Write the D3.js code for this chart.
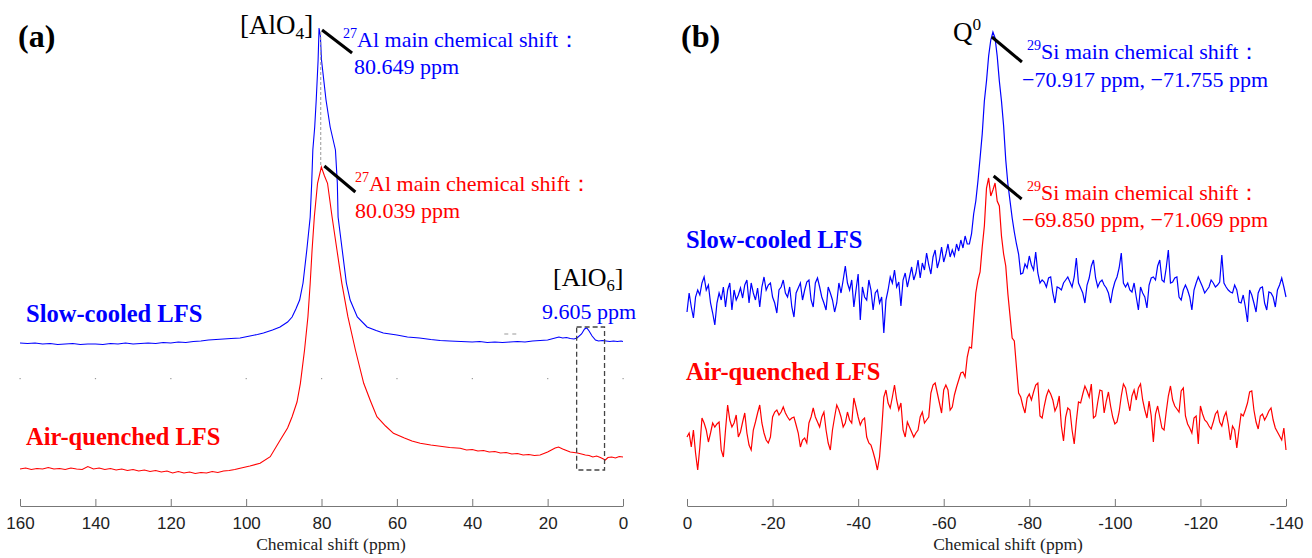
<!DOCTYPE html>
<html>
<head>
<meta charset="utf-8">
<script src="https://cdn.jsdelivr.net/npm/d3@7"></script>
<style>
  body { margin: 0; background: #fff; }
</style>
</head>
<body>
<script>
// ---- data (intensities in arbitrary units incl. stack offset) ----
const alTicks = [160, 140, 120, 100, 80, 60, 40, 20, 0];
const siTicks = [0, -20, -40, -60, -80, -100, -120, -140];

// 27Al spectrum, slow-cooled LFS: [ppm, intensity]
const alSlow = [[160,163],[158,162.5],[156,163],[154,162],[152,162.5],[150,161.5],[148,162],[146,162.5],[144,161.5],[142,162],
  [140,162],[138,161.5],[136,162.5],[134,162],[132,163],[130,162],[128,162.5],[126,163],[124,162.5],[122,163.5],
  [120,163],[118,164],[116,163.5],[114,164.5],[112,165],[110,166],[108,166.5],[106,167],[104,167.5],[101.6,168],
  [99,170],[97,171.5],[95.4,173],[93,176],[91,179],[89,184],[87.8,189],[86.8,197],[85.8,206],[84.9,223],
  [83.9,256],[83.0,289],[82.6,323],[82.3,356],[81.8,379],[81.4,406],[80.9,446],[80.65,478],[80.3,470],[80.0,446],
  [78.8,406],[77.7,379],[76.3,356],[75.8,323],[75.6,289],[74.5,256],[73.4,223],[72.4,206],[70.5,189],[67.9,179],
  [65.5,175.5],[63.6,173],[60,171],[57.2,169],[54,168],[51,166.5],[48.5,165.5],[46,165],[43,164.5],[40,164],
  [38,164.5],[36,163.5],[34,164],[32,163.5],[30,164],[28,164.5],[26,164],[24,165],[22,165.5],[20,166],
  [19,167],[18,168],[17,169],[16,168],[15,168.5],[14,167.5],[13,167],[12.2,168],[11,172],[10.2,177],
  [9.6,178],[9,175],[8.2,170],[7.3,166],[6.5,165],[5.5,165.5],[4.5,165],[3.5,164.5],[2.5,165],[1.5,164.5],
  [0.5,165],[0,164.5]];

// 27Al spectrum, air-quenched LFS: [ppm, intensity]
const alAir = [[160,37],[158.5,38],[157,36.5],[155.5,37.5],[154,37],[152.5,38.5],[151,37],[149.5,37.5],[148,36.5],[146.5,38],
  [145,37],[143.5,36.5],[142,39.5],[140.5,37],[139,38],[137.5,36.5],[136,37.5],[134.5,36],[133,37],[131.5,35.5],
  [130,36.5],[128.5,35],[127,36],[125.5,34.5],[124,35.5],[122.5,34],[121,35],[119.5,33],[118,34.5],[116.5,33],
  [115,34],[113.5,32.5],[112,33.5],[110.5,33],[109,34.5],[107.5,33.5],[106,35],[104.5,35.5],[103,36.5],[101.6,37.7],
  [99,40],[96.3,42.7],[93.6,49.3],[90.95,66],[89,78],[87.8,89.3],[86.5,104],[85.6,122.7],[84.5,156],[83.6,189.3],
  [83.0,222.7],[82.5,256],[81.9,289.3],[81.05,322.7],[80.04,339],[79.2,330],[78.4,322.7],[77.2,289.3],[75.9,256],[74.6,222.7],
  [73.0,189.3],[71.0,156],[68.8,122.7],[67,105],[65.3,89.3],[63,80],[60.9,72.7],[58,68],[56,65],[53.8,62.7],
  [51,61],[48,59.5],[46,58.5],[43.2,57.7],[41.5,56],[40,56.5],[38.5,55],[37,55.5],[35.5,54],[34,54.5],
  [32.5,53],[31,53.5],[29.5,52],[28,52.5],[26.5,51],[25,51.5],[23.5,50.5],[22,51],[21,52.5],[20,54],
  [19,56],[18,58],[17.1,59],[16,57],[15,55.5],[14,54],[13,53.5],[12.1,53],[11,52],[10,51],
  [9,50.5],[8,49],[7,50],[6,48.5],[5.2,47],[4.7,46],[4,48.5],[3,49],[2,48],[1,49.5],[0,49]];

// 29Si spectra, sampled every 0.5 ppm from 0 to -140 ppm
const siShift = d3.range(0, -140.25, -0.5);

const siSlow = [
  194,213,199,188,209,216,211,223,229,216, 221,203,193,181,203,213,206,219,199,216,
  223,196,216,206,211,218,208,221,226,203, 223,213,206,218,199,219,229,216,221,223,
  209,203,193,216,219,226,213,209,219,199, 189,213,218,223,206,216,224,226,206,199,
  223,228,219,209,203,196,219,213,206,194, 203,223,213,226,240,223,216,226,199,216,
  232,186,219,209,206,226,216,196,213,216, 203,209,173,206,216,
  229,223,236,219,224,200,226,233,219,229, 239,226,233,246,228,243,236,253,241,232,
  249,256,238,246,259,244,252,262,249,256,
  250,262,255,266,258,270,262,262,272,292, 305,325,348,372,405,425,450,466,474,468,
  450,425,405,380,346,322,305,288,274,262, 252,
  232,233,242,238,250,241,236,254,233,223, 226,224,219,228,229,213,203,219,218,216,
  223,226,229,224,219,229,248,223,218,213, 203,221,228,240,246,228,219,224,226,221,
  218,213,203,216,224,229,238,253,223,219, 223,216,214,223,209,196,219,213,209,198,
  221,228,229,226,240,246,226,224,238,256, 223,224,228,229,209,206,216,221,216,209,
  196,216,223,229,224,219,213,216,219,226, 223,219,221,224,251,223,219,216,214,213,
  221,216,204,203,211,199,184,216,211,203, 194,213,218,219,203,196,214,213,209,199,
  216,221,228,219,209];

const siAir = [
  69,73,59,76,53,36,59,88,83,76, 64,73,83,79,82,84,56,49,76,101,
  86,79,83,91,69,74,84,93,73,61, 56,76,84,93,101,83,73,66,63,69,
  89,94,96,91,94,99,93,89,86,88, 89,81,73,59,66,68,63,83,89,98,
  89,84,79,89,94,76,63,56,76,89, 101,96,89,79,83,94,86,83,108,99,
  89,81,86,88,69,63,61,54,46,36, 49,76,109,116,103,98,109,121,106,96,
  103,76,69,84,79,74,69,73,76,89, 94,83,86,89,113,121,123,113,103,93,
  116,121,116,96,99,111,119,126,133,134, 129,149,159,158,186,213,226,234,
  259,280,318,328,310,316,323,305,300,270, 252,240,212,190,168,165,139,
  113,109,100,93,108,112,106,114,121,123, 90,88,100,110,116,112,106,95,100,110,
  80,65,89,98,96,76,62,85,104,103, 112,120,115,109,122,88,90,104,116,115,
  93,105,114,100,89,82,84,94,110,122, 118,106,95,110,116,106,118,122,106,96,
  88,105,90,64,92,100,89,78,76,94, 110,120,106,100,97,94,115,118,90,82,
  78,73,88,90,62,100,92,86,84,80, 77,84,92,95,84,80,89,94,82,66,
  80,76,58,76,92,90,96,103,114,115, 96,84,77,90,92,86,90,95,98,86,
  78,74,70,66,78,56];

// ---- setup ----
const w = 1312, h = 558;
const blue = "#0000ff", red = "#ff0000";
const serif = "'Liberation Serif', 'Times New Roman', serif";

let svg = d3.select("body").append("svg")
  .attr("width", w).attr("height", h)
  .style("background", "#fff");

let xA = d3.scaleLinear().domain([160, 0]).range([20, 623]);
let xB = d3.scaleLinear().domain([0, -140]).range([687, 1286]);
let y = d3.scaleLinear().domain([0, 480]).range([506, 26]);

function drawAxis(scale, ticks, title, titleX) {
  let g = svg.append("g")
    .attr("transform", "translate(0,506)")
    .call(d3.axisBottom(scale)
      .tickValues(ticks)
      .tickSizeInner(-7)
      .tickSizeOuter(0)
      .tickPadding(11)
      .tickFormat(d => String(d)))
    .attr("font-family", "'Liberation Sans', Arial, sans-serif")
    .attr("font-size", 17);
  g.select(".domain").attr("stroke", "#777");
  g.selectAll(".tick line").attr("stroke", "#777");
  g.selectAll(".tick text").attr("fill", "#222");

  svg.append("text")
    .attr("x", titleX).attr("y", 550)
    .attr("text-anchor", "middle")
    .attr("font-family", serif).attr("font-size", 17.5)
    .attr("fill", "#222")
    .text(title);
}

// text with optional superscript / subscript pieces
function addText(x, yy, pieces, color, size, weight) {
  let t = svg.append("text")
    .attr("x", x).attr("y", yy)
    .attr("font-family", serif)
    .attr("font-size", size)
    .attr("fill", color);
  if (weight) t.attr("font-weight", weight);
  let shift = 0;
  pieces.forEach(p => {
    let target = p[1] == "sup" ? -0.4 * size : p[1] == "sub" ? 0.2 * size : 0;
    t.append("tspan")
      .attr("dy", target - shift)
      .attr("font-size", p[1] ? size * 0.64 : size)
      .text(p[0]);
    shift = target;
  });
  return t;
}

function leader(px, py, dx, dy) {
  svg.append("line")
    .attr("x1", px).attr("y1", py)
    .attr("x2", px + dx).attr("y2", py + dy)
    .attr("stroke", "#000").attr("stroke-width", 3);
}

// ---------------- panel (a) ----------------
drawAxis(xA, alTicks, "Chemical shift (ppm)", 331);

// faint dotted level between the two traces
svg.append("g").selectAll("rect").data(alTicks).enter()
  .append("rect")
    .attr("x", d => xA(d) - 0.5).attr("y", y(128))
    .attr("width", 1.2).attr("height", 1.2)
    .attr("fill", "#999");

let lineA = d3.line().x(d => xA(d[0])).y(d => y(d[1]));

svg.append("path").datum(alSlow)
  .attr("d", lineA).attr("fill", "none")
  .attr("stroke", blue).attr("stroke-width", 1.1);

svg.append("path").datum(alAir)
  .attr("d", lineA).attr("fill", "none")
  .attr("stroke", red).attr("stroke-width", 1.1);

// dashed link between the two main peaks
svg.append("line")
  .attr("x1", xA(80.2)).attr("y1", y(474))
  .attr("x2", xA(80.2)).attr("y2", y(340))
  .attr("stroke", "#999").attr("stroke-width", 1)
  .attr("stroke-dasharray", "3,2");

// dashed box around the [AlO6] signal
svg.append("rect")
  .attr("x", xA(12.3)).attr("y", y(179))
  .attr("width", xA(4.9) - xA(12.3))
  .attr("height", y(36) - y(179))
  .attr("fill", "none").attr("stroke", "#444")
  .attr("stroke-width", 1.3).attr("stroke-dasharray", "5,3");

svg.append("line")
  .attr("x1", xA(31.5)).attr("y1", y(172))
  .attr("x2", xA(27.8)).attr("y2", y(172))
  .attr("stroke", "#999").attr("stroke-width", 1)
  .attr("stroke-dasharray", "4,4");

leader(xA(80.649) + 3, y(478) + 2, 30, 23);
leader(xA(80.039) + 3, y(339) - 1, 31, 26);

addText(18, 47, [["(a)"]], "#000", 32, "bold");
addText(240, 34, [["[AlO"], ["4", "sub"], ["]"]], "#000", 27);
addText(343, 47, [["27", "sup"], ["Al main chemical shift："]], blue, 22);
addText(354, 74, [["80.649 ppm"]], blue, 22);
addText(355, 191, [["27", "sup"], ["Al main chemical shift："]], red, 22);
addText(355, 218, [["80.039 ppm"]], red, 22);
addText(553, 286, [["[AlO"], ["6", "sub"], ["]"]], "#000", 26);
addText(542, 319, [["9.605 ppm"]], blue, 22);
addText(26, 322, [["Slow-cooled LFS"]], blue, 24.5, "bold");
addText(26, 445, [["Air-quenched LFS"]], red, 24.5, "bold");

// ---------------- panel (b) ----------------
drawAxis(xB, siTicks, "Chemical shift (ppm)", 1008);

let lineB = d3.line().x(d => xB(d[0])).y(d => y(d[1]));

svg.append("path").datum(siShift.map((s, i) => [s, siSlow[i]]))
  .attr("d", lineB).attr("fill", "none")
  .attr("stroke", blue).attr("stroke-width", 1.2);

svg.append("path").datum(siShift.map((s, i) => [s, siAir[i]]))
  .attr("d", lineB).attr("fill", "none")
  .attr("stroke", red).attr("stroke-width", 1.2);

leader(xB(-71.5) - 1, y(474) + 5, 30, 25);
leader(xB(-70.5) + 5, y(328) - 2, 28, 23);

addText(681, 47, [["(b)"]], "#000", 32, "bold");
addText(953, 41, [["Q"], ["0", "sup"]], "#000", 27);
addText(1027, 59, [["29", "sup"], ["Si main chemical shift："]], blue, 22);
addText(1022, 87, [["−70.917 ppm, −71.755 ppm"]], blue, 22);
addText(1027, 200, [["29", "sup"], ["Si main chemical shift："]], red, 22);
addText(1022, 227, [["−69.850 ppm, −71.069 ppm"]], red, 22);
addText(686, 248, [["Slow-cooled LFS"]], blue, 24.5, "bold");
addText(686, 380, [["Air-quenched LFS"]], red, 24.5, "bold");
</script>
</body>
</html>
